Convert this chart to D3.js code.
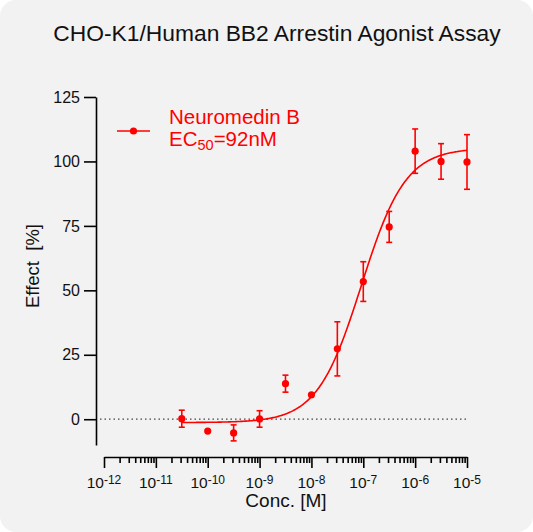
<!DOCTYPE html>
<html lang="en">
<head>
    <meta charset="UTF-8">
    <title>BB2 Arrestin Agonist Assay</title>
    <script src="https://d3js.org/d3.v7.min.js"></script>
    <style>
        body { margin: 0; background: #fff; }
        text { font-family: "Liberation Sans", Arial, sans-serif; }
        .axis path, .axis line { stroke: #000; stroke-width: 1.6; }
        .axis text { font-size: 16px; fill: #111; }
    </style>
</head>
<body>
<script>
    const width  = 533;
    const height = 532;

    // concentrations [M] and responses [%]
    const conc   = [3.16e-11, 1e-10, 3.16e-10, 1e-9, 3.16e-9, 1e-8, 3.16e-8, 1e-7, 3.16e-7, 1e-6, 3.16e-6, 1e-5];
    const effect = [0.2, -4.6, -5.3, 0.1, 13.8, 9.5, 27.3, 53.4, 74.6, 104.0, 100.0, 99.8];
    const sem    = [3.3, 0, 3.1, 3.2, 3.3, 0, 10.5, 7.7, 6.0, 8.6, 6.9, 10.6];

    // 4PL fit: bottom, top, EC50, hill
    const fit = [-1.3, 105.2, 92e-9, 1.02];

    const xTicks = [-12, -11, -10, -9, -8, -7, -6, -5];
    const yTicks = [0, 25, 50, 75, 100, 125];

    const x = d3.scaleLog().domain([1e-12, 1e-5]).range([104, 467]);
    const y = d3.scaleLinear().domain([-10, 125]).range([445, 97]);

    const svg = d3.select("body").append("svg").attr("width", width).attr("height", height);

    svg.append("rect")
        .attr("x", 0).attr("y", 0)
        .attr("width", width).attr("height", height)
        .attr("rx", 16)
        .attr("fill", "#f2f2f2");

    svg.append("text")
        .attr("x", 277).attr("y", 41)
        .attr("text-anchor", "middle")
        .attr("font-size", 22.8)
        .attr("fill", "#111")
        .text("CHO-K1/Human BB2 Arrestin Agonist Assay");

    // y axis
    const yAxis = d3.axisLeft(y).tickValues(yTicks).tickSize(12).tickPadding(4).tickSizeOuter(0);
    svg.append("g").attr("class", "axis")
        .attr("transform", "translate(96,0)")
        .call(yAxis);

    svg.append("text")
        .attr("transform", "translate(39,266) rotate(-90)")
        .attr("text-anchor", "middle")
        .attr("font-size", 18.5)
        .attr("fill", "#111")
        .attr("xml:space", "preserve")
        .style("white-space", "pre")
        .text("Effect  [%]");

    // x axis: minor ticks then majors
    const minors = [];
    for (let e = -12; e < -5; e++) {
        for (let m = 2; m <= 9; m++) minors.push(m * Math.pow(10, e));
    }
    const gx = svg.append("g").attr("class", "axis").attr("transform", "translate(0,457)");
    gx.call(d3.axisBottom(x).tickValues(minors).tickSize(6).tickFormat("").tickSizeOuter(0));
    const gMaj = svg.append("g").attr("class", "axis").attr("transform", "translate(0,457)");
    gMaj.call(d3.axisBottom(x).tickValues(xTicks.map(e => Math.pow(10, e))).tickSize(11).tickFormat("").tickSizeOuter(0));
    gMaj.select(".domain").remove();

    const lbl = svg.append("g").selectAll("text").data(xTicks).join("text")
        .attr("x", d => x(Math.pow(10, d)))
        .attr("y", 488)
        .attr("text-anchor", "middle")
        .attr("font-size", 15.5)
        .attr("fill", "#111");
    lbl.append("tspan").text("10");
    lbl.append("tspan").attr("dy", -4).attr("font-size", 12).text(d => String(d));

    svg.append("text")
        .attr("x", 286).attr("y", 507)
        .attr("text-anchor", "middle")
        .attr("font-size", 19)
        .attr("fill", "#111")
        .text("Conc. [M]");

    // zero reference
    svg.append("line")
        .attr("x1", 100).attr("x2", x(1e-5))
        .attr("y1", y(0)).attr("y2", y(0))
        .attr("stroke", "#444")
        .attr("stroke-width", 1.2)
        .attr("stroke-dasharray", "1.5,3");

    const red = "#ff0000";

    // fitted curve
    const [fitBottom, fitTop, ec50, hill] = fit;
    const logs = d3.range(Math.log10(conc[0]), Math.log10(conc[conc.length - 1]) + 1e-9, 0.02);
    const curve = d3.line()
        .x(d => x(Math.pow(10, d)))
        .y(d => y(fitBottom + (fitTop - fitBottom) / (1 + Math.pow(10, (Math.log10(ec50) - d) * hill))));
    svg.append("path")
        .attr("d", curve(logs))
        .attr("fill", "none")
        .attr("stroke", red)
        .attr("stroke-width", 1.6);

    // error bars and points
    const pts = conc.map((c, i) => ({c: c, v: effect[i], e: sem[i]}));
    const eb = svg.append("g").attr("stroke", red).attr("stroke-width", 1.6);
    pts.filter(d => d.e > 0).forEach(d => {
        const cx = x(d.c);
        eb.append("line").attr("x1", cx).attr("x2", cx).attr("y1", y(d.v - d.e)).attr("y2", y(d.v + d.e));
        eb.append("line").attr("x1", cx - 3).attr("x2", cx + 3).attr("y1", y(d.v - d.e)).attr("y2", y(d.v - d.e));
        eb.append("line").attr("x1", cx - 3).attr("x2", cx + 3).attr("y1", y(d.v + d.e)).attr("y2", y(d.v + d.e));
    });
    svg.append("g").selectAll("circle").data(pts).join("circle")
        .attr("cx", d => x(d.c))
        .attr("cy", d => y(d.v))
        .attr("r", 3.6)
        .attr("fill", red);

    // legend
    svg.append("line").attr("x1", 117).attr("x2", 150).attr("y1", 131).attr("y2", 131)
        .attr("stroke", red).attr("stroke-width", 1.6);
    svg.append("circle").attr("cx", 133.5).attr("cy", 131).attr("r", 3.6).attr("fill", red);
    svg.append("text").attr("x", 169).attr("y", 124)
        .attr("font-size", 20.5).attr("fill", red).text("Neuromedin B");
    const ec = svg.append("text").attr("x", 169).attr("y", 146)
        .attr("font-size", 20.5).attr("fill", red);
    ec.append("tspan").text("EC");
    ec.append("tspan").attr("dy", 4).attr("font-size", 14.5).text("50");
    ec.append("tspan").attr("dy", -4).text("=92nM");
</script>
</body>
</html>
